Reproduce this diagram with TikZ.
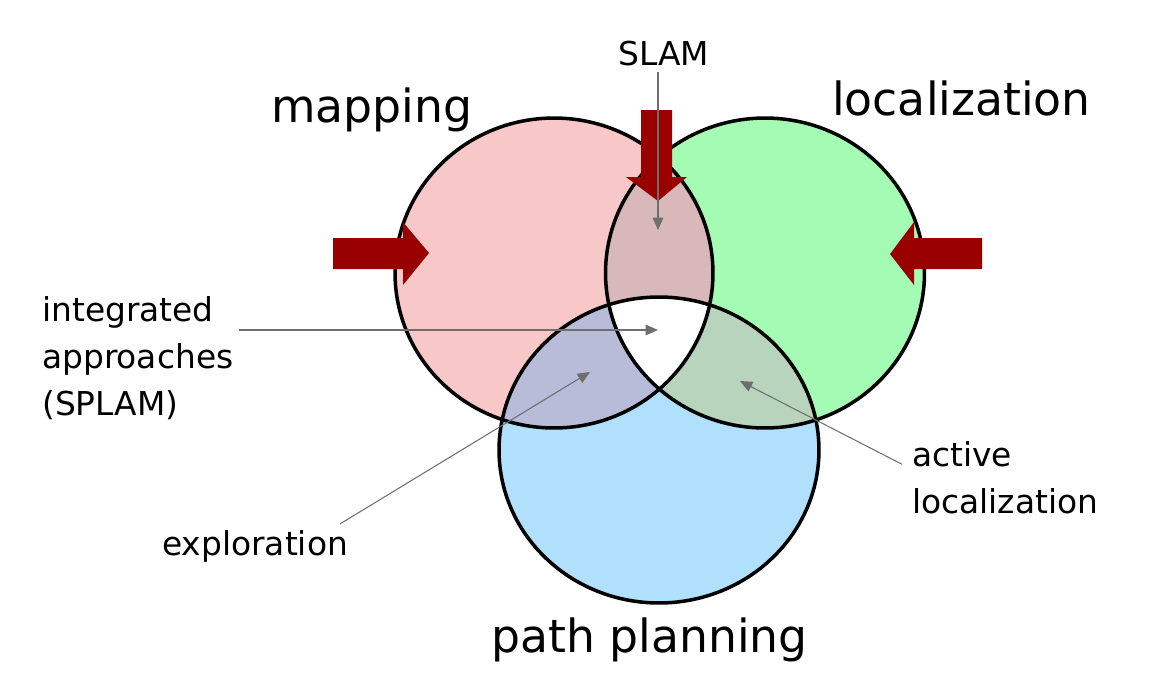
\documentclass[tikz,border=0pt]{standalone}
\usepackage{fontspec}
\setmainfont{DejaVu Sans}
\usetikzlibrary{arrows.meta}

\definecolor{mapred}{HTML}{F8C8C8}
\definecolor{locgreen}{HTML}{A4FCB4}
\definecolor{pathblue}{HTML}{B0E0FC}
\definecolor{mapsloc}{HTML}{D8B8B8}
\definecolor{mapspath}{HTML}{B8BCD8}
\definecolor{locspath}{HTML}{B8D4BC}
\definecolor{arrowred}{HTML}{990000}
\definecolor{pointergray}{HTML}{6E6E6E}

% the three circles
\newcommand{\mapshape}{(554,273) ellipse [x radius=3.18cm, y radius=3.1cm]}
\newcommand{\locshape}{(765,273) ellipse [x radius=3.19cm, y radius=3.1cm]}
\newcommand{\pathshape}{(659,450) ellipse [x radius=3.2cm, y radius=3.06cm]}

\tikzset{
  bigtitle/.style={font=\fontsize{26}{30}\selectfont, anchor=base west},
  smalltext/.style={font=\fontsize{18.7}{26.5}\selectfont, align=left, anchor=base west},
  pointer/.style={draw=pointergray, line width=0.6pt, -{Triangle[width=6pt,length=7pt]}},
  bigarrow/.style={fill=arrowred},
  rim/.style={draw=black, line width=2pt},
}

\begin{document}
\begin{tikzpicture}[x=0.02cm, y=-0.02cm]
    \useasboundingbox (0,0) rectangle (1176,681);

    % Areas
    \fill[mapred] \mapshape;
    \fill[locgreen] \locshape;
    \fill[pathblue] \pathshape;
    \begin{scope}
        \clip \mapshape;
        \fill[mapsloc] \locshape;
        \fill[mapspath] \pathshape;
    \end{scope}
    \begin{scope}
        \clip \locshape;
        \fill[locspath] \pathshape;
    \end{scope}
    \begin{scope}
        \clip \mapshape;
        \clip \locshape;
        \fill[white] \pathshape;
    \end{scope}

    % Outlines
    \draw[rim] \mapshape;
    \draw[rim] \locshape;
    \draw[rim] \pathshape;

    % Block arrows
    \fill[bigarrow] (333,238) -- (403,238) -- (403,222) -- (429,253)
        -- (403,285) -- (403,269) -- (333,269) -- cycle;
    \fill[bigarrow] (982,238) -- (914,238) -- (914,222) -- (890,254)
        -- (914,285) -- (914,269) -- (982,269) -- cycle;
    \fill[bigarrow] (641,110) -- (672,110) -- (672,177) -- (687,177)
        -- (658,201) -- (626,177) -- (641,177) -- cycle;

    % Titles
    \node[bigtitle] (mapping) at (265,122) {mapping};
    \node[bigtitle] (localization) at (826,115) {localization};
    \node[bigtitle] (planning) at (485,652) {path planning};

    % Labels
    \node[smalltext] (slam) at (612,65) {SLAM};
    \node[smalltext] (splam) at (36,415) {integrated\\approaches\\(SPLAM)};
    \node[smalltext] (explo) at (156,555) {exploration};
    \node[smalltext] (active) at (906,513) {active\\localization};

    % Pointers
    \coordinate (slamtip) at (658,230);
    \coordinate (splamtip) at (658,330);
    \coordinate (explotip) at (590,372);
    \coordinate (activetip) at (740,381);
    \draw[pointer] (slam.south -| slamtip) -- (slamtip);
    \draw[pointer] (splam.east |- splamtip) -- (splamtip);
    \draw[pointer] ([shift={(-14,0)}]explo.north east) -- (explotip);
    \draw[pointer] ([shift={(-4,29)}]active.north west) -- (activetip);
\end{tikzpicture}
\end{document}
